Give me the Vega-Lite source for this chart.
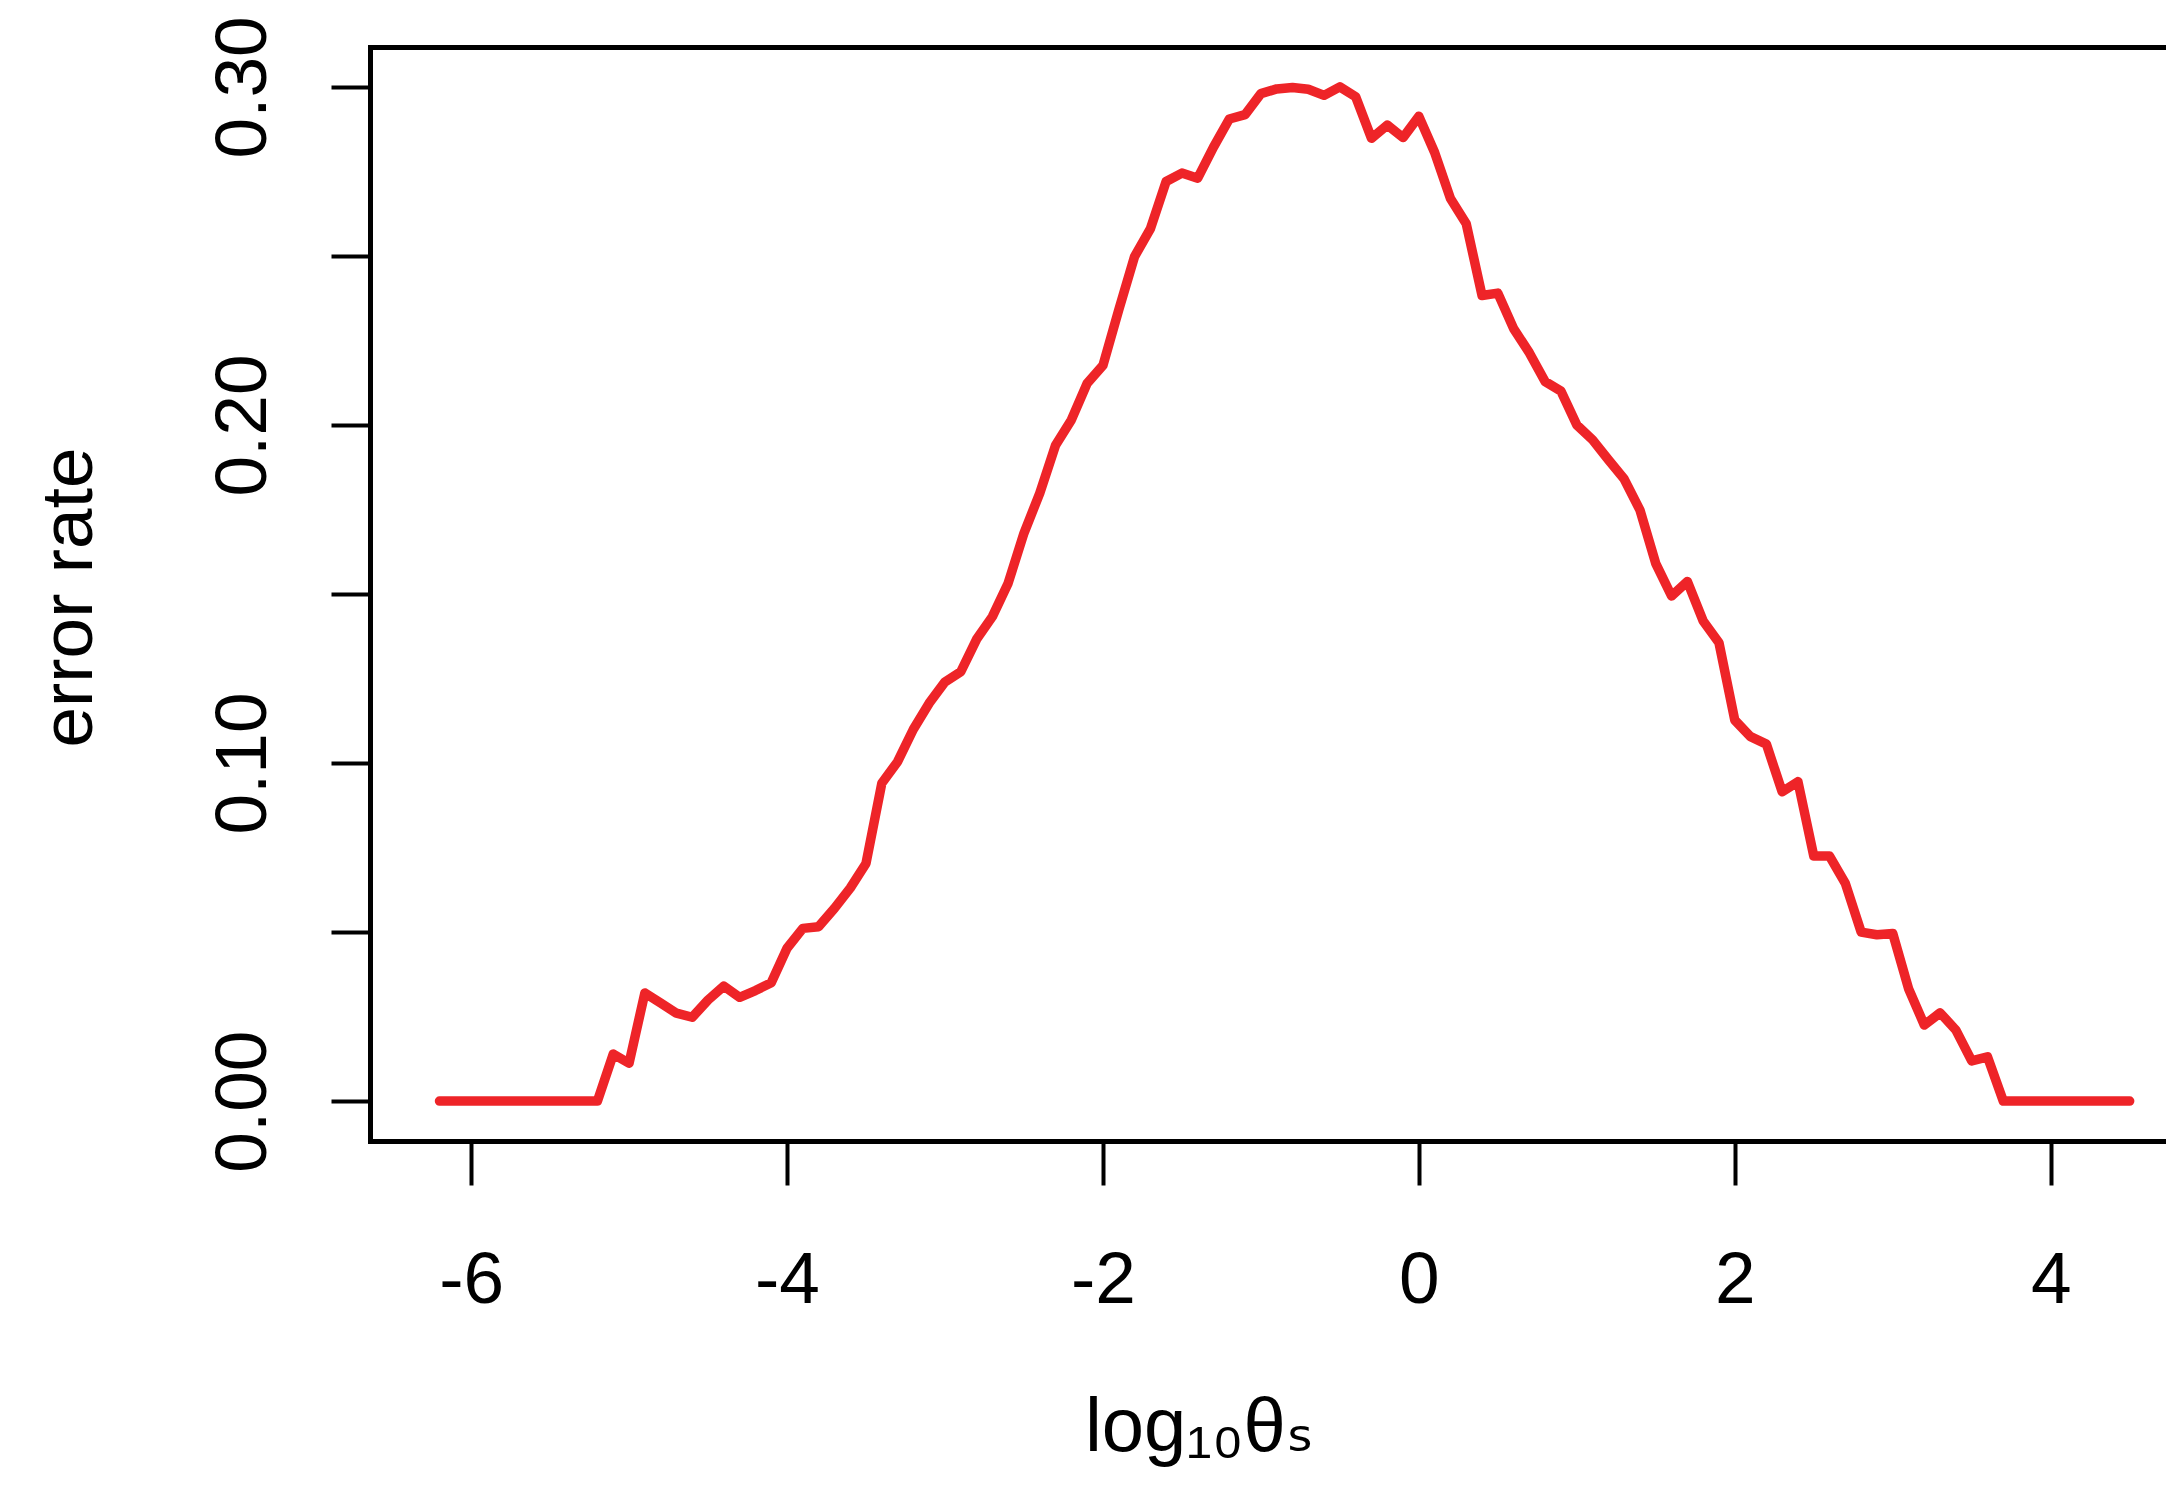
{
  "$schema": "https://vega.github.io/schema/vega-lite/v6.json",
  "width": 1796,
  "height": 1094,
  "autosize": "none",
  "padding": {"left": 370, "top": 47, "right": 0, "bottom": 369},
  "background": "white",
  "config": {
    "view": {"stroke": null},
    "font": "Liberation Sans",
    "axis": {"grid": false, "domainColor": "black", "domainWidth": 5, "domainCap": "square", "tickColor": "black", "tickWidth": 4, "labelColor": "black", "titleColor": "black", "labelFont": "Liberation Sans", "titleFont": "Liberation Sans, DejaVu Sans", "titleFontWeight": "normal"}
  },
  "data": {"values": [
    {"x": -6.2, "y": 0}, {"x": -6.1, "y": 0}, {"x": -6.0, "y": 0}, {"x": -5.9, "y": 0}, {"x": -5.8, "y": 0},
    {"x": -5.7, "y": 0}, {"x": -5.6, "y": 0}, {"x": -5.5, "y": 0}, {"x": -5.4, "y": 0}, {"x": -5.3, "y": 0},
    {"x": -5.2, "y": 0}, {"x": -5.1, "y": 0.0139}, {"x": -5.0, "y": 0.0112}, {"x": -4.9, "y": 0.032},
    {"x": -4.8, "y": 0.029}, {"x": -4.7, "y": 0.026}, {"x": -4.6, "y": 0.0248}, {"x": -4.5, "y": 0.0299},
    {"x": -4.4, "y": 0.034}, {"x": -4.3, "y": 0.0307}, {"x": -4.2, "y": 0.0327}, {"x": -4.1, "y": 0.035},
    {"x": -4.0, "y": 0.0452}, {"x": -3.9, "y": 0.0511}, {"x": -3.8, "y": 0.0516}, {"x": -3.7, "y": 0.057},
    {"x": -3.6, "y": 0.063}, {"x": -3.5, "y": 0.0703}, {"x": -3.4, "y": 0.094}, {"x": -3.3, "y": 0.1004},
    {"x": -3.2, "y": 0.11}, {"x": -3.1, "y": 0.1177}, {"x": -3.0, "y": 0.124}, {"x": -2.9, "y": 0.127},
    {"x": -2.8, "y": 0.1366}, {"x": -2.7, "y": 0.1433}, {"x": -2.6, "y": 0.1532}, {"x": -2.5, "y": 0.168},
    {"x": -2.4, "y": 0.1798}, {"x": -2.3, "y": 0.194}, {"x": -2.2, "y": 0.2015}, {"x": -2.1, "y": 0.2123},
    {"x": -2.0, "y": 0.2176}, {"x": -1.9, "y": 0.234}, {"x": -1.8, "y": 0.2498}, {"x": -1.7, "y": 0.258},
    {"x": -1.6, "y": 0.272}, {"x": -1.5, "y": 0.2745}, {"x": -1.4, "y": 0.273}, {"x": -1.3, "y": 0.2822},
    {"x": -1.2, "y": 0.2905}, {"x": -1.1, "y": 0.2918}, {"x": -1.0, "y": 0.298}, {"x": -0.9, "y": 0.2994},
    {"x": -0.8, "y": 0.2998}, {"x": -0.7, "y": 0.2993}, {"x": -0.6, "y": 0.2975}, {"x": -0.5, "y": 0.3},
    {"x": -0.4, "y": 0.2971}, {"x": -0.3, "y": 0.2848}, {"x": -0.2, "y": 0.2887}, {"x": -0.1, "y": 0.285},
    {"x": 0.0, "y": 0.2913}, {"x": 0.1, "y": 0.2806}, {"x": 0.2, "y": 0.267}, {"x": 0.3, "y": 0.2595},
    {"x": 0.4, "y": 0.2383}, {"x": 0.5, "y": 0.239}, {"x": 0.6, "y": 0.2285}, {"x": 0.7, "y": 0.2213},
    {"x": 0.8, "y": 0.2128}, {"x": 0.9, "y": 0.21}, {"x": 1.0, "y": 0.2}, {"x": 1.1, "y": 0.1956},
    {"x": 1.2, "y": 0.1897}, {"x": 1.3, "y": 0.184}, {"x": 1.4, "y": 0.1748}, {"x": 1.5, "y": 0.159},
    {"x": 1.6, "y": 0.1494}, {"x": 1.7, "y": 0.1537}, {"x": 1.8, "y": 0.142}, {"x": 1.9, "y": 0.1356},
    {"x": 2.0, "y": 0.1127}, {"x": 2.1, "y": 0.1078}, {"x": 2.2, "y": 0.1056}, {"x": 2.3, "y": 0.0915},
    {"x": 2.4, "y": 0.0945}, {"x": 2.5, "y": 0.0725}, {"x": 2.6, "y": 0.0725}, {"x": 2.7, "y": 0.0644},
    {"x": 2.8, "y": 0.05}, {"x": 2.9, "y": 0.0492}, {"x": 3.0, "y": 0.0496}, {"x": 3.1, "y": 0.0333},
    {"x": 3.2, "y": 0.0225}, {"x": 3.3, "y": 0.0261}, {"x": 3.4, "y": 0.021}, {"x": 3.5, "y": 0.0119},
    {"x": 3.6, "y": 0.0131}, {"x": 3.7, "y": 0}, {"x": 3.8, "y": 0}, {"x": 3.9, "y": 0}, {"x": 4.0, "y": 0},
    {"x": 4.1, "y": 0}, {"x": 4.2, "y": 0}, {"x": 4.3, "y": 0}, {"x": 4.4, "y": 0}, {"x": 4.5, "y": 0}
  ]},
  "layer": [
    {
      "mark": {"type": "line", "color": "#ee2428", "strokeWidth": 9.5, "strokeCap": "round", "strokeJoin": "round"},
      "encoding": {
        "x": {
          "field": "x", "type": "quantitative",
          "scale": {"domain": [-6.64, 4.73], "nice": false, "zero": false},
          "axis": {
            "orient": "bottom",
            "values": [-6, -4, -2, 0, 2, 4],
            "tickSize": 44,
            "labelFontSize": 73,
            "labelBaseline": "alphabetic",
            "labelPadding": 117,
            "labelFlush": false,
            "labelOverlap": false,
            "labelExpr": "'' + datum.value",
            "title": "log₁₀θₛ",
            "titleFontSize": 76,
            "titleBaseline": "alphabetic",
            "titleAlign": "center",
            "titleX": 829,
            "titleY": 309
          }
        },
        "y": {
          "field": "y", "type": "quantitative",
          "scale": {"domain": [-0.0118, 0.3118], "nice": false, "zero": false},
          "axis": {
            "orient": "left",
            "values": [0, 0.05, 0.1, 0.15, 0.2, 0.25, 0.3],
            "tickSize": 39,
            "labelFontSize": 73,
            "labelAngle": 270,
            "labelAlign": "center",
            "labelBaseline": "alphabetic",
            "labelPadding": 66,
            "labelOverlap": false,
            "labelExpr": "round(datum.value * 100) % 10 == 0 ? format(datum.value, '.2f') : ''",
            "title": "error rate",
            "titleFontSize": 73,
            "titleAngle": 270,
            "titleBaseline": "alphabetic",
            "titleAlign": "center",
            "titleX": -279,
            "titleY": 550
          }
        }
      }
    },
    {
      "mark": {"type": "line", "strokeOpacity": 0},
      "encoding": {
        "x": {
          "field": "x", "type": "quantitative",
          "axis": {"orient": "top", "ticks": false, "labels": false, "title": null}
        },
        "y": {"field": "y", "type": "quantitative"}
      }
    }
  ],
  "resolve": {"axis": {"x": "independent"}}
}
